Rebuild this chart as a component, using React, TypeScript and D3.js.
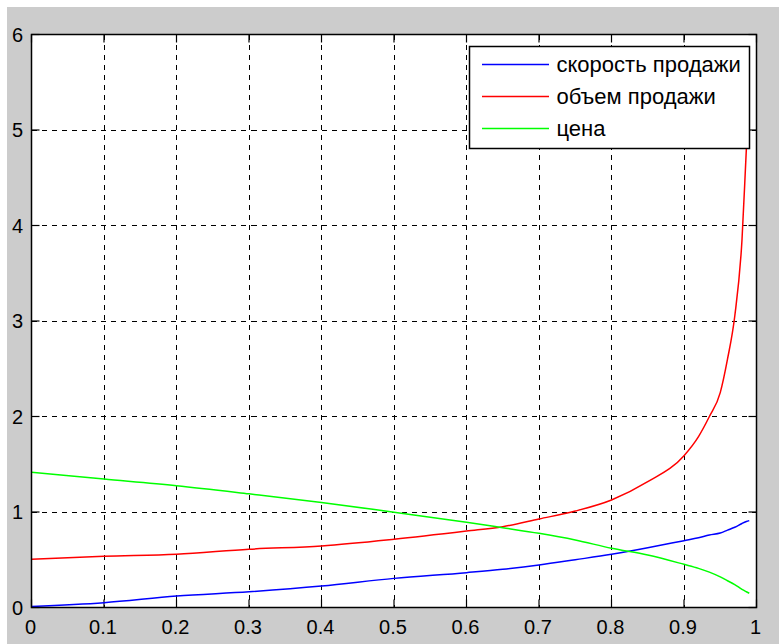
import React from 'react';
import * as d3 from 'd3';

// sample positions (x) and the three curves
const xValues = [0, 0.1, 0.2, 0.3, 0.4, 0.5, 0.6, 0.65, 0.7, 0.75, 0.8, 0.85, 0.9, 0.92, 0.935, 0.95, 0.96, 0.97, 0.98, 0.986, 0.99];
const speedValues = [0.01, 0.05, 0.12, 0.165, 0.225, 0.305, 0.365, 0.4, 0.445, 0.5, 0.557, 0.625, 0.7, 0.73, 0.76, 0.78, 0.81, 0.84, 0.88, 0.9, 0.91];
const volumeValues = [0.505, 0.536, 0.557, 0.61, 0.644, 0.714, 0.8, 0.846, 0.927, 1.01, 1.126, 1.317, 1.59, 1.79, 2.0, 2.25, 2.6, 3.05, 3.85, 4.8, 5.4];
const priceValues = [1.415, 1.345, 1.275, 1.19, 1.1, 0.997, 0.892, 0.835, 0.777, 0.707, 0.62, 0.55, 0.452, 0.41, 0.37, 0.32, 0.28, 0.24, 0.19, 0.165, 0.149];

const seriesNames = ['скорость продажи', 'объем продажи', 'цена'];
const seriesColors = ['#0000ff', '#ff0000', '#00ff00'];
const xTicks = [0, 0.1, 0.2, 0.3, 0.4, 0.5, 0.6, 0.7, 0.8, 0.9, 1];
const yTicks = [0, 1, 2, 3, 4, 5, 6];

const W = 779;
const H = 644;
const plot = { left: 31.5, right: 756.5, top: 34.5, bottom: 607.5 };
const font = '"Liberation Sans", Arial, sans-serif';

export default function App() {
    const x = d3.scaleLinear().domain([0, 1]).range([plot.left, plot.right]);
    const y = d3.scaleLinear().domain([0, 6]).range([plot.bottom, plot.top]);

    const series = [speedValues, volumeValues, priceValues];
    const line = d3.line<number>()
        .x((_, i) => x(xValues[i]))
        .y(d => y(d))
        .curve(d3.curveMonotoneX);

    const tickLen = 8;
    const legend = { x: 469.5, y: 46.5, w: 280, h: 102 };

    return (
        <svg width={W} height={H} style={{ position: 'absolute', left: 0, top: 0 }}>
            <rect x={7} y={7} width={W - 7} height={H - 7} fill="#cccccc" />
            <rect x={plot.left} y={plot.top} width={plot.right - plot.left} height={plot.bottom - plot.top} fill="#ffffff" />
            <defs>
                <clipPath id="plotClip">
                    <rect x={plot.left} y={plot.top} width={plot.right - plot.left} height={plot.bottom - plot.top} />
                </clipPath>
            </defs>

            {/* dashed grid */}
            <g stroke="#000" strokeWidth={1} strokeDasharray="5,5" shapeRendering="crispEdges">
                {xTicks.slice(1, -1).map(t => (
                    <line key={'gx' + t} x1={x(t)} x2={x(t)} y1={plot.top} y2={plot.bottom} />
                ))}
                {yTicks.slice(1, -1).map(t => (
                    <line key={'gy' + t} x1={plot.left} x2={plot.right} y1={y(t)} y2={y(t)} />
                ))}
            </g>

            {/* tick marks on all four sides */}
            <g stroke="#000" strokeWidth={1.2}>
                {xTicks.map(t => (
                    <g key={'tx' + t}>
                        <line x1={x(t)} x2={x(t)} y1={plot.bottom} y2={plot.bottom - tickLen} />
                        <line x1={x(t)} x2={x(t)} y1={plot.top} y2={plot.top + tickLen} />
                    </g>
                ))}
                {yTicks.map(t => (
                    <g key={'ty' + t}>
                        <line x1={plot.left} x2={plot.left + tickLen} y1={y(t)} y2={y(t)} />
                        <line x1={plot.right} x2={plot.right - tickLen} y1={y(t)} y2={y(t)} />
                    </g>
                ))}
            </g>

            {/* curves */}
            <g clipPath="url(#plotClip)" fill="none" strokeWidth={1.5}>
                {series.map((s, i) => (
                    <path key={seriesNames[i]} d={line(s) || ''} stroke={seriesColors[i]} />
                ))}
            </g>

            {/* axes box */}
            <rect x={plot.left} y={plot.top} width={plot.right - plot.left} height={plot.bottom - plot.top}
                fill="none" stroke="#000" strokeWidth={1.5} />

            {/* tick labels */}
            <g fontFamily={font} fontSize={20} fill="#000">
                {xTicks.map(t => (
                    <text key={'lx' + t} x={x(t) - 1} y={634} textAnchor="middle">{d3.format('~g')(t)}</text>
                ))}
                {yTicks.map(t => (
                    <text key={'ly' + t} x={23} y={y(t) + 7} textAnchor="end">{t}</text>
                ))}
            </g>

            {/* legend */}
            <g>
                <rect x={legend.x} y={legend.y} width={legend.w} height={legend.h} fill="#ffffff" stroke="#000" strokeWidth={1.5} />
                {seriesNames.map((name, i) => (
                    <g key={name} transform={`translate(${legend.x}, ${legend.y + 18 + i * 32})`}>
                        <line x1={12.5} x2={79.5} y1={0} y2={0} stroke={seriesColors[i]} strokeWidth={1.5} />
                        <text x={87} y={7.5} fontFamily={font} fontSize={22} fill="#000">{name}</text>
                    </g>
                ))}
            </g>
        </svg>
    );
}
